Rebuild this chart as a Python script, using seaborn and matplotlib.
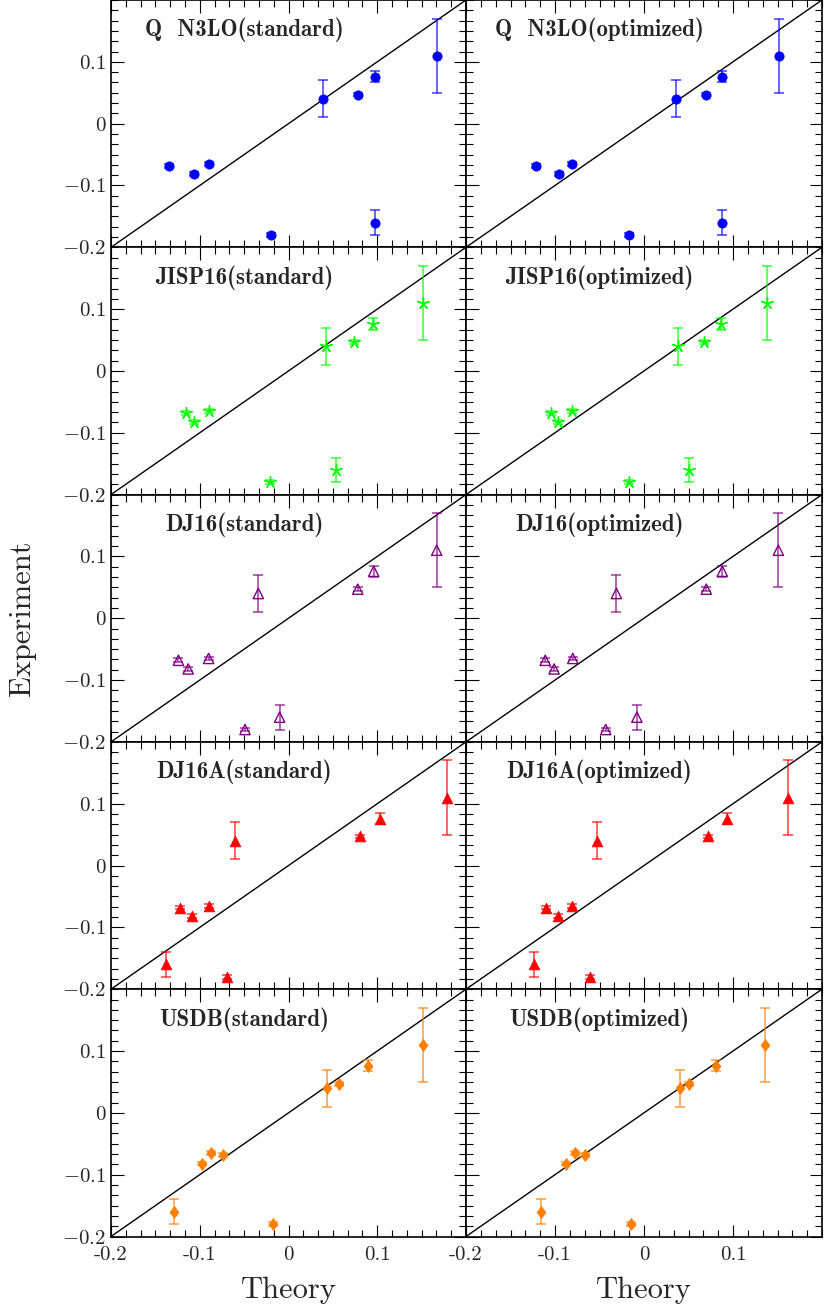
import numpy as np
import pandas as pd
import matplotlib
matplotlib.use("Agg")
import matplotlib.pyplot as plt
import seaborn as sns
from matplotlib.ticker import AutoMinorLocator

# experimental values (same in every panel)
exp_val = [-0.068, -0.082, -0.065, -0.18, 0.04, 0.047, 0.076, -0.16, 0.11]
exp_err = [0.003, 0.003, 0.003, 0.003, 0.03, 0.003, 0.009, 0.02, 0.06]

# theory values
n3lo_std = [-0.135, -0.106, -0.090, -0.020, 0.039, 0.078, 0.097, 0.097, 0.167]
n3lo_opt = [-0.121, -0.095, -0.081, -0.017, 0.036, 0.070, 0.088, 0.088, 0.152]
jisp_std = [-0.116, -0.107, -0.090, -0.021, 0.042, 0.074, 0.095, 0.054, 0.152]
jisp_opt = [-0.104, -0.097, -0.081, -0.017, 0.038, 0.067, 0.087, 0.050, 0.138]
dj16_std = [-0.124, -0.113, -0.090, -0.049, -0.034, 0.078, 0.096, -0.010, 0.167]
dj16_opt = [-0.111, -0.101, -0.080, -0.043, -0.031, 0.070, 0.088, -0.008, 0.151]
dj16a_std = [-0.122, -0.109, -0.090, -0.069, -0.060, 0.080, 0.103, -0.138, 0.179]
dj16a_opt = [-0.110, -0.097, -0.081, -0.061, -0.053, 0.072, 0.093, -0.124, 0.162]
usdb_std = [-0.074, -0.098, -0.087, -0.018, 0.043, 0.057, 0.090, -0.129, 0.152]
usdb_opt = [-0.066, -0.088, -0.078, -0.015, 0.040, 0.051, 0.081, -0.116, 0.136]

models = ["Q  N3LO", "JISP16", "DJ16", "DJ16A", "USDB"]
theory = [(n3lo_std, n3lo_opt), (jisp_std, jisp_opt), (dj16_std, dj16_opt),
          (dj16a_std, dj16a_opt), (usdb_std, usdb_opt)]
colors = ["#0000ff", "#00ff00", "#800080", "#ff0000", "#ff8000"]
diamond = [(0, 1), (0.75, 0), (0, -1), (-0.75, 0), (0, 1)]
markers = ["o", (5, 2, 0), "^", "^", diamond]
sizes = [45, 70, 55, 60, 75]
filled = [True, False, False, True, True]

ticks = [-0.2, -0.1, 0, 0.1]
xlabels = ["-0.2", "-0.1", "0", "0.1"]
ylabels = ["$-0.2$", "$-0.1$", "$0$", "$0.1$"]

sns.set_style("ticks")
plt.rcParams['font.family'] = ['cmr10']
plt.rcParams['mathtext.fontset'] = 'cm'
plt.rcParams['axes.formatter.use_mathtext'] = True

W, H = 831, 1315
fig = plt.figure(figsize=(W / 100, H / 100), dpi=100)
col_x = [111, 466]
col_w = [355, 356]
row_h = 247.3

for r in range(5):
    for c in range(2):
        left = col_x[c] / W
        bottom = (H - row_h * (r + 1)) / H
        ax = fig.add_axes([left, bottom, col_w[c] / W, row_h / H])
        df = pd.DataFrame({"theory": theory[r][c], "exp": exp_val, "err": exp_err})
        ax.plot([-0.2, 0.2], [-0.2, 0.2], color="black", lw=1.0, zorder=1)
        ax.errorbar(df["theory"], df["exp"], yerr=df["err"], fmt="none",
                    ecolor=colors[r], alpha=0.7, elinewidth=1.2, capsize=3.5,
                    capthick=1.2, zorder=2)
        if r == 1:
            sns.scatterplot(data=df, x="theory", y="exp", ax=ax, marker=markers[r],
                            s=sizes[r], color=colors[r], linewidth=1.0, zorder=3)
        elif filled[r]:
            sns.scatterplot(data=df, x="theory", y="exp", ax=ax, marker=markers[r],
                            s=sizes[r], color=colors[r], edgecolor=colors[r],
                            linewidth=0.5, zorder=3)
        else:
            sns.scatterplot(data=df, x="theory", y="exp", ax=ax, marker=markers[r],
                            s=sizes[r], facecolor="none", edgecolor=colors[r],
                            linewidth=1.0, zorder=3)
        ax.set_xlim(-0.2, 0.2)
        ax.set_ylim(-0.2, 0.2)
        ax.set_xticks(ticks)
        ax.set_yticks(ticks)
        ax.xaxis.set_minor_locator(AutoMinorLocator(6))
        ax.yaxis.set_minor_locator(AutoMinorLocator(6))
        ax.tick_params(which="both", direction="in", top=True, right=True,
                       color="black", width=0.8)
        ax.tick_params(which="major", length=9, labelsize=15)
        ax.tick_params(which="minor", length=5)
        ax.tick_params(axis="x", which="major", pad=7)
        if r == 4:
            ax.set_xticklabels(xlabels)
        else:
            ax.set_xticklabels([])
        if c == 0:
            ax.set_yticklabels(ylabels)
        else:
            ax.set_yticklabels([])
        ax.set_xlabel("")
        ax.set_ylabel("")
        for sp in ax.spines.values():
            sp.set_linewidth(1.2)
            sp.set_color("black")
        title = models[r] + ("(standard)" if c == 0 else "(optimized)")
        ax.text(0.375, 0.878, title, transform=ax.transAxes, ha="center",
                va="center", fontsize=16.5, fontfamily="cmb10")

fig.text(22 / W, 1 - 618 / H, "Experiment", rotation=90, ha="center",
         va="center", fontsize=22)
fig.text(289 / W, 1 - 1290 / H, "Theory", ha="center", va="center", fontsize=22)
fig.text(644 / W, 1 - 1290 / H, "Theory", ha="center", va="center", fontsize=22)

fig.savefig("out.png", dpi=100)
